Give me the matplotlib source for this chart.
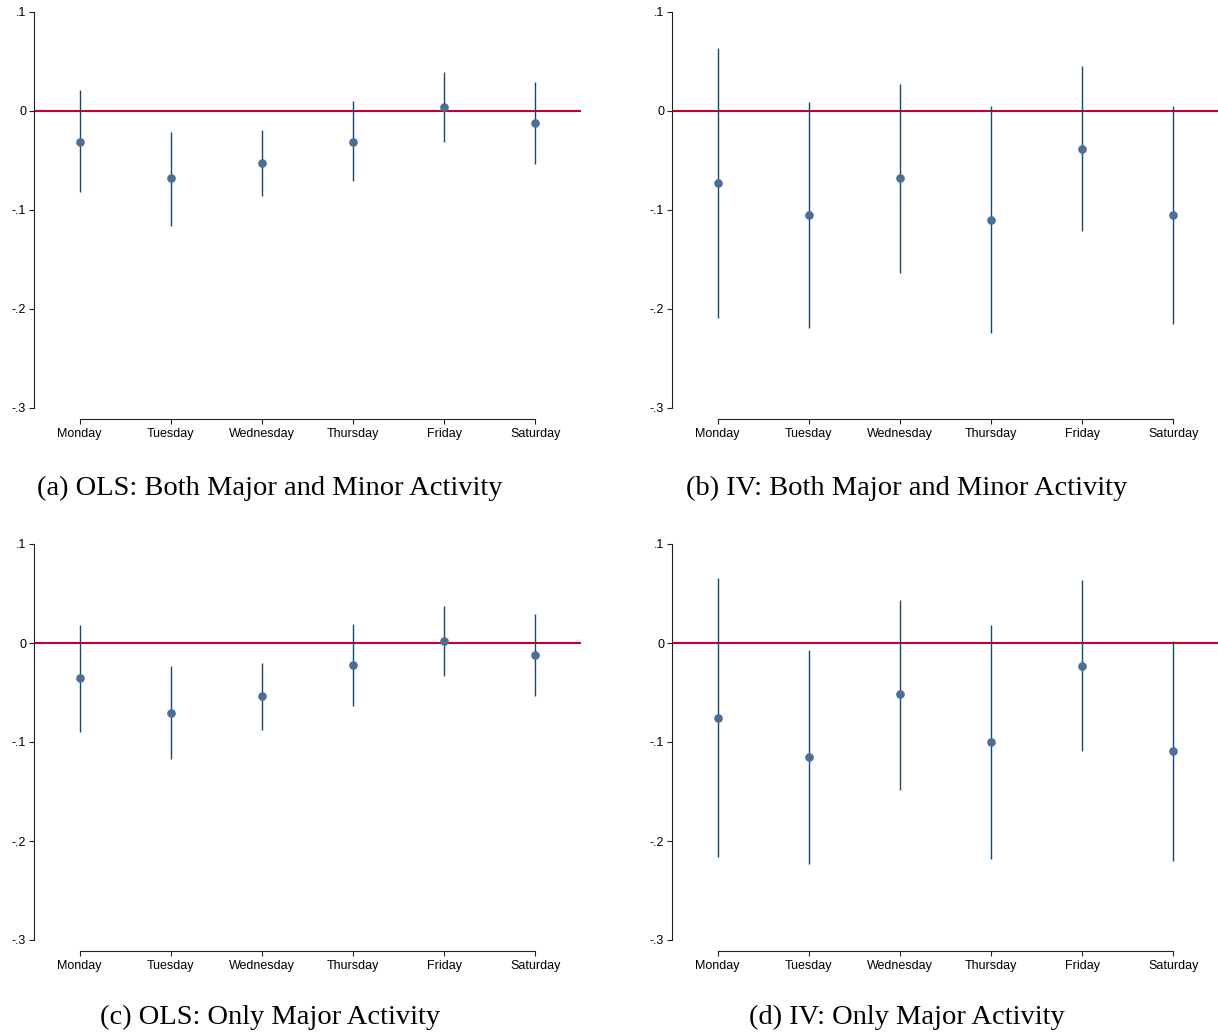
import numpy as np
import matplotlib
matplotlib.use("Agg")
import matplotlib.pyplot as plt

days = ["Monday", "Tuesday", "Wednesday", "Thursday", "Friday", "Saturday"]
ytick_vals = [0.1, 0.0, -0.1, -0.2, -0.3]
ytick_labels = [".1", "0", "-.1", "-.2", "-.3"]

# point estimates and 95% CI bounds
ols_both = [-0.031, -0.068, -0.053, -0.031, 0.004, -0.0125]
ols_both_hi = [0.021, -0.021, -0.019, 0.010, 0.039, 0.029]
ols_both_lo = [-0.082, -0.116, -0.086, -0.071, -0.031, -0.054]

iv_both = [-0.0726, -0.105, -0.068, -0.1097, -0.038, -0.1053]
iv_both_hi = [0.064, 0.009, 0.027, 0.005, 0.045, 0.005]
iv_both_lo = [-0.209, -0.219, -0.1635, -0.224, -0.121, -0.2155]

ols_major = [-0.0354, -0.0704, -0.054, -0.0226, 0.0024, -0.012]
ols_major_hi = [0.0185, -0.0236, -0.0205, 0.019, 0.0377, 0.029]
ols_major_lo = [-0.090, -0.117, -0.0875, -0.064, -0.0333, -0.054]

iv_major = [-0.0758, -0.1152, -0.052, -0.0997, -0.023, -0.1088]
iv_major_hi = [0.0657, -0.0071, 0.0438, 0.0185, 0.064, 0.0024]
iv_major_lo = [-0.2165, -0.223, -0.148, -0.2178, -0.1094, -0.220]

captions = ["(a) OLS: Both Major and Minor Activity",
            "(b) IV: Both Major and Minor Activity",
            "(c) OLS: Only Major Activity",
            "(d) IV: Only Major Activity"]

panels = [(ols_both, ols_both_lo, ols_both_hi),
          (iv_both, iv_both_lo, iv_both_hi),
          (ols_major, ols_major_lo, ols_major_hi),
          (iv_major, iv_major_lo, iv_major_hi)]

W, H = 1218, 1034
fig = plt.figure(figsize=(W / 100, H / 100), dpi=100)

# axes boxes in pixels: left, top, right, bottom
boxes = [(34, 12, 581, 408), (672, 12, 1219, 408),
         (34, 544, 581, 940), (672, 544, 1219, 940)]
cap_pos = [(270, 488), (907, 488), (270, 1017), (907, 1017)]

line_col = "#1a476f"
dot_col = "#4d6f93"
zero_col = "#c3002f"
x = np.arange(1, len(days) + 1)

for i, (est, lo, hi) in enumerate(panels):
    l, t, r, b = boxes[i]
    ax = fig.add_axes([l / W, 1 - b / H, (r - l) / W, (b - t) / H])
    ax.axhline(0, color=zero_col, lw=1.5, zorder=1)
    ax.vlines(x, lo, hi, color=line_col, lw=1.0, zorder=2)
    ax.plot(x, est, "o", color=dot_col, ms=5.2, zorder=3)

    ax.set_xlim(0.5, 6.5)
    ax.set_ylim(-0.3, 0.1)
    for s in ["top", "right"]:
        ax.spines[s].set_visible(False)
    ax.spines["left"].set_bounds(-0.3, 0.1)
    ax.spines["bottom"].set_position(("outward", 8))
    ax.spines["bottom"].set_bounds(1, 6)
    for s in ["left", "bottom"]:
        ax.spines[s].set_linewidth(0.8)
        ax.spines[s].set_color("#222222")

    ax.set_xticks(x)
    ax.set_xticklabels(days, fontsize=9, family="Liberation Sans")
    ax.set_yticks(ytick_vals)
    ax.set_yticklabels(ytick_labels, fontsize=9, family="Liberation Sans")
    ax.tick_params(axis="both", length=3.6, width=0.8, color="#222222",
                   pad=2)
    ax.tick_params(axis="x", pad=3)

    cx, cy = cap_pos[i]
    fig.text(cx / W, 1 - cy / H, captions[i], ha="center", va="center",
             fontsize=20.5, family="Liberation Serif")

fig.savefig("out.png", dpi=100)
